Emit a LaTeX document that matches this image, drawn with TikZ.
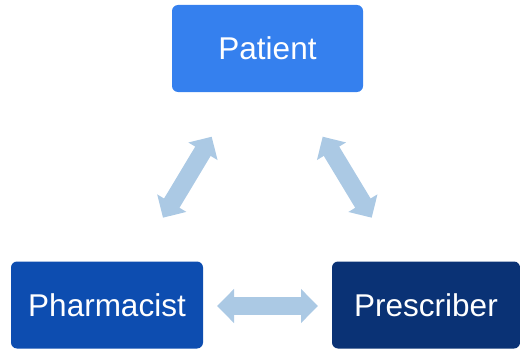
\documentclass[tikz,border=0pt]{standalone}
\usepackage{fontspec}
\setmainfont{Liberation Sans}
\usetikzlibrary{arrows.meta}
\definecolor{patientblue}{HTML}{3580EE}
\definecolor{pharmablue}{HTML}{0D4DB0}
\definecolor{prescblue}{HTML}{0A3275}
\definecolor{linkblue}{HTML}{ABC9E4}

\begin{document}
\begin{tikzpicture}[x=1pt, y=1pt,
    role/.style={rounded corners=6pt, text=white, inner sep=0pt,
        font=\fontsize{31.5}{36}\selectfont, minimum height=87pt},
    link/.style={draw=linkblue, line width=18pt,
        {Triangle[length=17pt, width=33pt]}-{Triangle[length=17pt, width=33pt]}}]
\useasboundingbox (0, 0) rectangle (520, 349);

    \node[role, fill=patientblue, minimum width=191pt] (patient) at (267.5, 300.5) {Patient};
    \node[role, fill=pharmablue, minimum width=192pt] (pharmacist) at (107, 44) {Pharmacist};
    \node[role, fill=prescblue, minimum width=188pt] (prescriber) at (426, 44) {Prescriber};

    \coordinate (pl) at (163, 131.3);
    \coordinate (pt) at (211.7, 212.3);
    \coordinate (rt) at (322.7, 212.3);
    \coordinate (rr) at (371.7, 131.3);
    \coordinate (hl) at (217, 43);
    \coordinate (hr) at (318, 43);

    \draw[link] (pl) -- (pt);
    \draw[link] (rt) -- (rr);
    \draw[link] (hl) -- (hr);
\end{tikzpicture}
\end{document}
